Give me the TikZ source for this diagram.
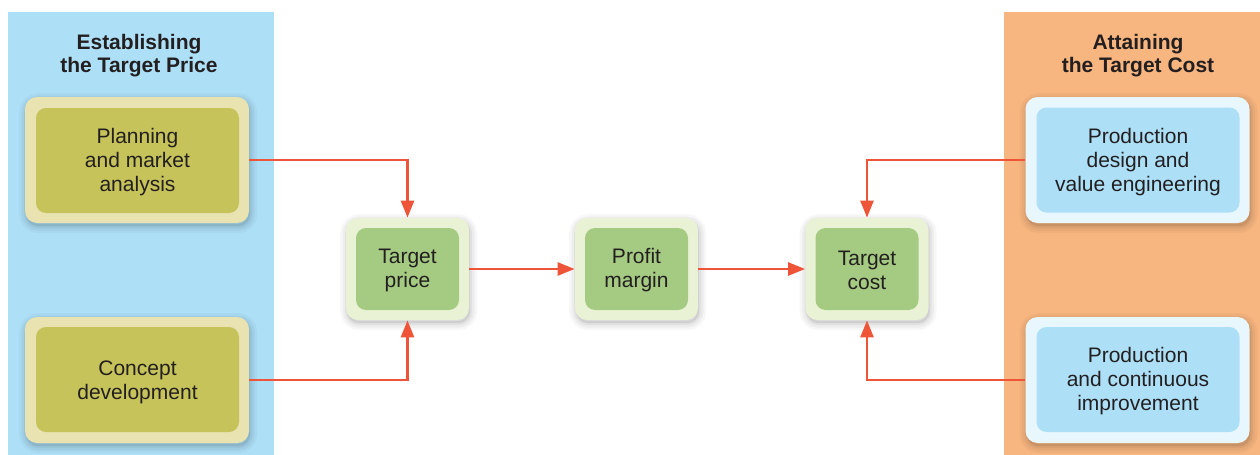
\documentclass[tikz,border=0pt]{standalone}
\usepackage{fontspec}
\setmainfont{Liberation Sans}
\usetikzlibrary{arrows.meta}
\definecolor{panelblue}{HTML}{ADE0F7}
\definecolor{panelorange}{HTML}{F7B57F}
\definecolor{oliveouter}{HTML}{E9E3B1}
\definecolor{oliveinner}{HTML}{C6C35A}
\definecolor{greenouter}{HTML}{EAF2D6}
\definecolor{greeninner}{HTML}{A5CB82}
\definecolor{blueouter}{HTML}{E8F6FD}
\definecolor{blueinner}{HTML}{ADE0F7}
\definecolor{arrowred}{HTML}{EE5437}
\definecolor{txt}{HTML}{231F20}
\begin{document}
\begin{tikzpicture}[x=0.5pt,y=-0.5pt,
  softshadow/.style={
    preaction={draw=black, line width=7pt, opacity=0.03, transform canvas={xshift=0.6pt,yshift=-1.6pt}},
    preaction={draw=black, line width=4.5pt, opacity=0.04, transform canvas={xshift=0.6pt,yshift=-1.6pt}},
    preaction={draw=black, line width=2pt, opacity=0.05, transform canvas={xshift=0.6pt,yshift=-1.6pt}},
    preaction={fill=black, opacity=0.08, transform canvas={xshift=0.6pt,yshift=-1.6pt}}},
  outerbox/.style={rounded corners=6pt, inner sep=0pt, draw=none, softshadow},
  innerbox/.style={rounded corners=5pt, inner sep=0pt, draw=none},
  lbl/.style={text=txt, align=center, inner sep=0pt, font=\fontsize{10.5}{12}\selectfont},
  bigbox/.style={minimum width=112pt, minimum height=63pt},
  biginner/.style={minimum width=101.5pt, minimum height=52.5pt},
  smallbox/.style={minimum width=61.5pt, minimum height=51pt},
  smallinner/.style={minimum width=51.5pt, minimum height=41pt},
  title/.style={align=center, text=txt, inner sep=0pt, font=\bfseries\fontsize{10.5}{11.2}\selectfont},
  conn/.style={draw=arrowred, line width=1.3pt, -{Triangle[length=8.5pt,width=6.5pt]}}
]
\useasboundingbox (0,0) rectangle (1260,455);
% panels
\fill[panelblue] (8,12) rectangle (274,455);
\fill[panelorange] (1004,12) rectangle (1260,455);
\node[title] (t1) at (139,55.5) {Establishing\\the Target Price};
\node[title] (t2) at (1138,55.5) {Attaining\\the Target Cost};
% left boxes
\node[outerbox,bigbox,fill=oliveouter] (plan) at (137,160) {};
\node[innerbox,biginner,fill=oliveinner] (plani) at (137.5,160.5) {};
\node[lbl] (planl) at (137.5,162.5) {Planning\\and market\\analysis};
\node[outerbox,bigbox,fill=oliveouter] (conc) at (137,380) {};
\node[innerbox,biginner,fill=oliveinner] (conci) at (137.5,379.5) {};
\node[lbl] (concl) at (137.5,382) {Concept\\development};
% right boxes
\node[outerbox,bigbox,fill=blueouter] (pdes) at (1137.5,160) {};
\node[innerbox,biginner,fill=blueinner] (pdesi) at (1138,160) {};
\node[lbl] (pdesl) at (1138,162.5) {Production\\design and\\value engineering};
\node[outerbox,bigbox,fill=blueouter] (pcon) at (1137.5,380) {};
\node[innerbox,biginner,fill=blueinner] (pconi) at (1138,379.5) {};
\node[lbl] (pconl) at (1138,381.5) {Production\\and continuous\\improvement};
% middle boxes
\node[outerbox,smallbox,fill=greenouter] (tp) at (407.5,269) {};
\node[innerbox,smallinner,fill=greeninner] (tpi) at (407.5,269) {};
\node[lbl] (tpl) at (407.5,270.5) {Target\\price};
\node[outerbox,smallbox,fill=greenouter] (pm) at (636.5,269) {};
\node[innerbox,smallinner,fill=greeninner] (pmi) at (636.5,269) {};
\node[lbl] (pml) at (636.5,270.5) {Profit\\margin};
\node[outerbox,smallbox,fill=greenouter] (tc) at (867,269) {};
\node[innerbox,smallinner,fill=greeninner] (tci) at (867,269) {};
\node[lbl] (tcl) at (867,270.5) {Target\\cost};
% connectors
\draw[conn] (plan.east) -| (tp.north);
\draw[conn] (conc.east) -| (tp.south);
\draw[conn] (tp.east) -- (pm.west);
\draw[conn] (pm.east) -- (tc.west);
\draw[conn] (pdes.west) -| (tc.north);
\draw[conn] (pcon.west) -| (tc.south);
\end{tikzpicture}
\end{document}
